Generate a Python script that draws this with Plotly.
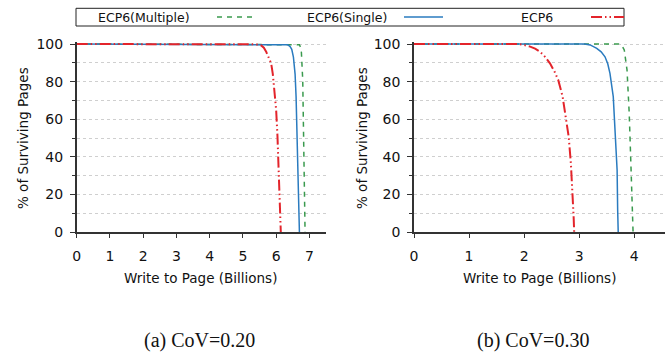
import plotly.graph_objects as go

# ---------------- data ----------------
# Panel (a) CoV=0.20
a_multi_x = [0, 6.65, 6.70, 6.73, 6.76, 6.80, 6.83, 6.85, 6.87]
a_multi_y = [100, 100, 99.6, 98.5, 95.5, 80.9, 54.3, 27.7, 0]
a_single_x = [0, 6.25, 6.35, 6.42, 6.47, 6.52, 6.57, 6.60, 6.63, 6.66, 6.68, 6.70]
a_single_y = [100, 100, 99.6, 98.6, 97.2, 93.0, 84.0, 72.0, 52.5, 36.6, 12.0, 0]
a_ecp6_x = [0, 5.30, 5.45, 5.55, 5.63, 5.70, 5.78, 5.85, 5.90, 5.95, 6.00, 6.04, 6.08, 6.11, 6.13, 6.14]
a_ecp6_y = [100, 100, 99.8, 99.2, 98.0, 95.9, 93.0, 89.7, 84.0, 76.0, 65.0, 51.0, 34.0, 18.0, 6.0, 0]

# Panel (b) CoV=0.30
b_multi_x = [0, 3.72, 3.78, 3.82, 3.87, 3.91, 3.94, 3.96, 3.98]
b_multi_y = [100, 100, 99.0, 96.8, 86.2, 63.1, 36.5, 13.5, 0]
b_single_x = [0, 3.10, 3.20, 3.32, 3.40, 3.47, 3.52, 3.56, 3.62, 3.65, 3.69, 3.70, 3.71]
b_single_y = [100, 100, 99.5, 97.7, 95.8, 93.2, 89.5, 84.4, 72.0, 54.3, 33.0, 11.7, 0]
b_ecp6_x = [0, 1.90, 1.99, 2.11, 2.20, 2.29, 2.38, 2.47, 2.55, 2.62, 2.70, 2.76, 2.81, 2.85, 2.88, 2.90, 2.91]
b_ecp6_y = [100, 100, 99.5, 98.6, 97.5, 95.9, 93.2, 89.7, 85.5, 80.9, 72.0, 61.3, 50.7, 36.5, 22.3, 8.1, 0]

series_names = ["ECP6(Multiple)", "ECP6(Single)", "ECP6"]
x_ticks_a = [0, 1, 2, 3, 4, 5, 6, 7]
x_ticks_b = [0, 1, 2, 3, 4]
y_ticks = [0, 20, 40, 60, 80, 100]
y_minor = [10, 30, 50, 70, 90]
captions = ["(a) CoV=0.20", "(b) CoV=0.30"]
x_title = "Write to Page (Billions)"
y_title = "% of Surviving Pages"

# ---------------- styles ----------------
W, H = 671, 352
C_GREEN = "#3a9a4e"
C_BLUE = "#2a7bbf"
C_RED = "#e3242b"
DASH_GREEN = "5px,5px"
DASH_RED = "11px,3px,1.5px,3px,1.5px,3px"
styles = {
    "ECP6(Multiple)": dict(color=C_GREEN, dash=DASH_GREEN, width=1.5),
    "ECP6(Single)": dict(color=C_BLUE, dash="solid", width=1.5),
    "ECP6": dict(color=C_RED, dash=DASH_RED, width=2),
}

def px_x(p):
    return p / W

def px_y(p):
    return 1 - p / H

fig = go.Figure()

panels = [
    ("x", "y", [(a_multi_x, a_multi_y), (a_single_x, a_single_y), (a_ecp6_x, a_ecp6_y)]),
    ("x2", "y2", [(b_multi_x, b_multi_y), (b_single_x, b_single_y), (b_ecp6_x, b_ecp6_y)]),
]
for xa, ya, data in panels:
    for name, (xs, ys) in zip(series_names, data):
        fig.add_trace(go.Scatter(
            x=xs, y=ys, mode="lines", name=name, line=styles[name],
            xaxis=xa, yaxis=ya, showlegend=False, hoverinfo="skip"))

TICKFONT = dict(family="DejaVu Sans", size=14, color="#111")
AX_COL = "#333"

y_top = 44 - 1.88  # so that value 100 sits at pixel 44 with range up to 101
y_bot = 232

def xaxis_cfg(domain, rng, ticks, anchor):
    return dict(domain=domain, range=rng, tickvals=ticks, ticks="outside", ticklen=4,
                tickcolor=AX_COL, tickwidth=1.2, showgrid=False, zeroline=False,
                showline=True, linecolor=AX_COL, linewidth=1.5, anchor=anchor,
                tickfont=TICKFONT, ticklabelstandoff=6, fixedrange=True, automargin=False)

def yaxis_cfg(anchor):
    return dict(domain=[px_y(y_bot), px_y(y_top)], range=[0, 101], tickvals=y_ticks,
                ticks="outside", ticklen=5, tickcolor=AX_COL, tickwidth=1.2,
                showgrid=True, gridcolor="#cfcfcf", griddash="dot", gridwidth=1,
                zeroline=False, showline=True, linecolor=AX_COL, linewidth=1.5,
                anchor=anchor, tickfont=TICKFONT, ticklabelstandoff=4, fixedrange=True,
                automargin=False,
                minor=dict(tickvals=y_minor, ticks="outside", ticklen=3, tickcolor=AX_COL,
                           showgrid=True, gridcolor="#cfcfcf", griddash="dot", gridwidth=1))

fig.update_layout(
    width=W, height=H, margin=dict(l=0, r=0, t=0, b=0, pad=0, autoexpand=False),
    paper_bgcolor="white", plot_bgcolor="white",
    xaxis=xaxis_cfg([px_x(76.7), px_x(326)], [0, 7.5], x_ticks_a, "y"),
    yaxis=yaxis_cfg("x"),
    xaxis2=xaxis_cfg([px_x(414), px_x(665)], [0, 4.56], x_ticks_b, "y2"),
    yaxis2=yaxis_cfg("x2"),
    showlegend=False,
)

TITLEFONT = dict(family="DejaVu Sans", size=13.5, color="#111")
ann = []
for cx in (200, 539):
    ann.append(dict(text=x_title, x=px_x(cx), y=px_y(278), xref="paper", yref="paper",
                    showarrow=False, font=TITLEFONT, xanchor="center", yanchor="middle"))
for cx in (23, 362):
    ann.append(dict(text=y_title, x=px_x(cx), y=px_y(138), xref="paper", yref="paper",
                    showarrow=False, font=TITLEFONT, textangle=-90,
                    xanchor="center", yanchor="middle"))
for cx, cap in zip((199, 533), captions):
    ann.append(dict(text=cap, x=px_x(cx), y=px_y(340), xref="paper", yref="paper",
                    showarrow=False, font=dict(family="Liberation Serif", size=20, color="#111"),
                    xanchor="center", yanchor="middle"))

# legend (gnuplot style: text then sample) in a box
LEGFONT = dict(family="DejaVu Sans", size=12.5, color="#111")
leg_text_right = [192, 389, 555]
leg_sample = [(217, 254), (404, 443), (591, 624)]
leg_y = 17
shapes = [dict(type="rect", xref="paper", yref="paper", x0=px_x(76), x1=px_x(624),
               y0=px_y(26), y1=px_y(8.3), line=dict(color="#222", width=1))]
for name, tr, (s0, s1) in zip(series_names, leg_text_right, leg_sample):
    ann.append(dict(text=name, x=px_x(tr), y=px_y(leg_y), xref="paper", yref="paper",
                    showarrow=False, font=LEGFONT, xanchor="right", yanchor="middle"))
    st = styles[name]
    shapes.append(dict(type="line", xref="paper", yref="paper", x0=px_x(s0), x1=px_x(s1),
                       y0=px_y(leg_y), y1=px_y(leg_y),
                       line=dict(color=st["color"], dash=st["dash"], width=st["width"])))

fig.update_layout(annotations=ann, shapes=shapes)
fig.write_html("out.html", config={"displayModeBar": False},
               post_script="document.body.style.margin='0';document.body.style.overflow='hidden';")
